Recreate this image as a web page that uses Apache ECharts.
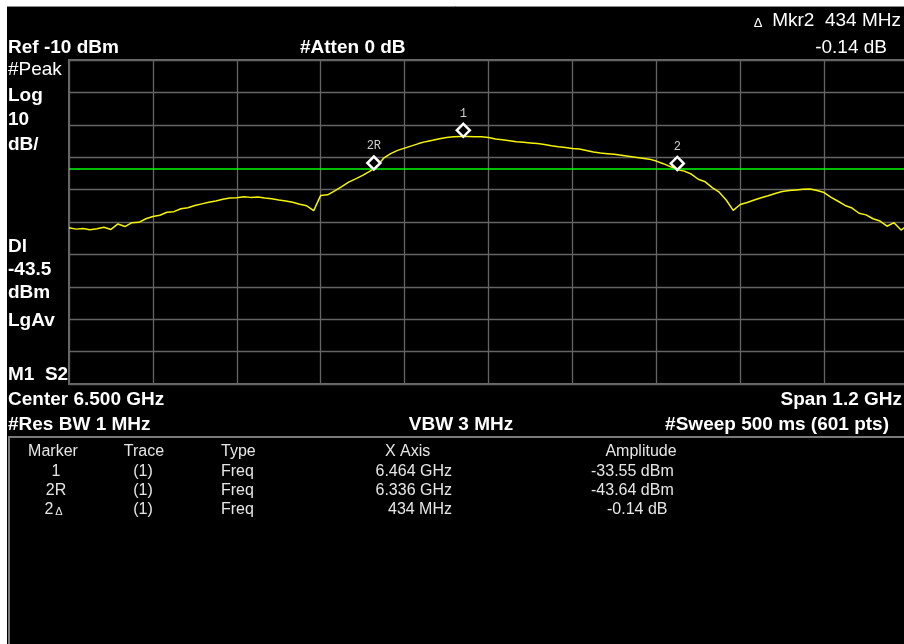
<!DOCTYPE html>
<html><head><meta charset="utf-8">
<script src="https://cdn.jsdelivr.net/npm/echarts@6/dist/echarts.min.js"></script>
<style>html,body{margin:0;padding:0;background:#000}#c{width:904px;height:644px}</style>
</head><body><div id="c"></div>
<script>
// ---- instrument settings ----
const centerMHz = 6500;
const spanMHz = 1200;
const refLevelDbm = -10;
const dbPerDiv = 10;
const displayLineDbm = -43.5;

// ---- trace ----
const freqMHz = [
  5900,5910,5920,5930,5940,5950,5960,5970,5980,5990,
  6000,6010,6020,6030,6040,6050,6060,6070,6080,6090,
  6100,6110,6120,6130,6140,6150,6160,6170,6180,6190,
  6200,6210,6220,6230,6240,6250,6260,6270,6280,6290,
  6300,6310,6320,6330,6340,6350,6360,6370,6380,6390,
  6400,6410,6420,6430,6440,6450,6460,6470,6480,6490,
  6500,6510,6520,6530,6540,6550,6560,6570,6580,6590,
  6600,6610,6620,6630,6640,6650,6660,6670,6680,6690,
  6700,6710,6720,6730,6740,6750,6760,6770,6780,6790,
  6800,6810,6820,6830,6840,6850,6860,6870,6880,6890,
  6900,6910,6920,6930,6940,6950,6960,6970,6980,6990,
  7000,7010,7020,7030,7040,7050,7060,7070,7080,7090,
  7100
];
const ampDbm = [
  -61.8,-62.2,-62.0,-62.4,-62.1,-61.6,-62.3,-60.6,-61.4,-60.2,
  -60.1,-59.0,-58.3,-57.9,-57.0,-56.8,-55.9,-55.6,-54.9,-54.4,
  -53.9,-53.5,-53.0,-52.6,-52.5,-52.2,-52.4,-52.3,-52.6,-52.8,
  -53.2,-53.5,-53.9,-54.5,-55.0,-56.5,-51.8,-51.6,-50.4,-49.1,
  -47.7,-46.7,-45.6,-44.4,-42.9,-40.3,-38.9,-37.9,-37.2,-36.5,
  -35.8,-35.2,-34.8,-34.3,-33.9,-33.7,-33.58,-33.6,-33.7,-33.7,
  -33.9,-34.4,-34.6,-34.9,-35.2,-35.4,-35.6,-35.8,-36.1,-36.5,
  -36.8,-37.0,-37.3,-37.5,-37.9,-38.4,-38.7,-38.9,-39.1,-39.4,
  -39.7,-40.0,-40.3,-40.6,-41.2,-42.0,-42.9,-43.8,-44.3,-45.2,
  -46.8,-47.6,-49.4,-50.8,-53.2,-56.4,-54.6,-54.0,-53.2,-52.5,
  -51.9,-51.2,-50.6,-50.3,-50.1,-49.9,-49.8,-50.3,-50.9,-52.4,
  -53.6,-54.9,-55.7,-57.3,-57.8,-59.0,-59.7,-61.3,-60.2,-62.5,
  -60.9
];

// ---- markers ----
const markerNames = ['1', '2R', '2'];
const markerFreqMHz = [6464, 6336, 6770];
const markerAmpDbm = [-33.55, -43.64, -43.78];

// ---- marker table ----
const tableHeader = ['Marker', 'Trace', 'Type', 'X Axis', 'Amplitude'];
const tableMarker = ['1', '2R', '2'];
const tableTrace = ['(1)', '(1)', '(1)'];
const tableType = ['Freq', 'Freq', 'Freq'];
const tableXAxis = ['6.464 GHz', '6.336 GHz', '434 MHz'];
const tableAmplitude = ['-33.55 dBm', '-43.64 dBm', '-0.14 dB'];

const FONT = '"Liberation Sans", Arial, sans-serif';
function T(text, x, y, size, bold, align, fill) {
  align = align || 'left';
  return {
    type: 'text', x: x, y: y, z: 100, silent: true,
    style: {
      text: text, fill: fill || '#ffffff',
      font: (bold ? 'bold ' : '') + size + 'px ' + FONT,
      textAlign: align, align: align,
      textVerticalAlign: 'middle', verticalAlign: 'middle'
    }
  };
}

const g = [];
// white frame top/left
g.push({type:'rect', z: 90, silent:true, shape:{x:0,y:0,width:904,height:6}, style:{fill:'#fff'}});
g.push({type:'rect', z: 90, silent:true, shape:{x:0,y:0,width:7,height:644}, style:{fill:'#fff'}});
g.push({type:'line', z: 91, silent:true, shape:{x1:7,y1:6.5,x2:904,y2:6.5}, style:{stroke:'#8a8a8a', lineWidth:1}});
// header
g.push(T('Ref -10 dBm', 8, 48, 19, true));
g.push(T('#Atten 0 dB', 300, 48, 19, true));
g.push(T('\u0394', 758, 23, 13, false, 'center'));
g.push(T('Mkr2  434 MHz', 901, 21, 19, false, 'right'));
g.push(T('-0.14 dB', 887, 48, 19, false, 'right'));
// left annotations
g.push(T('#Peak', 8, 70, 19, false));
g.push(T('Log', 8, 96, 19, true));
g.push(T('10', 8, 120, 19, true));
g.push(T('dB/', 8, 145, 19, true));
g.push(T('Dl', 8, 247, 19, true));
g.push(T('-43.5', 8, 270, 19, true));
g.push(T('dBm', 8, 293, 19, true));
g.push(T('LgAv', 8, 321, 19, true));
g.push(T('M1  S2', 8, 375, 19, true));
// bottom annotations
g.push(T('Center 6.500 GHz', 8, 400, 19, true));
g.push(T('Span 1.2 GHz', 902, 400, 19, true, 'right'));
g.push(T('#Res BW 1 MHz', 8, 425, 19, true));
g.push(T('VBW 3 MHz', 461, 425, 19, true, 'center'));
g.push(T('#Sweep 500 ms (601 pts)', 889, 425, 19, true, 'right'));
// marker table frame
g.push({type:'line', z: 91, silent:true, shape:{x1:8,y1:437,x2:904,y2:437}, style:{stroke:'#7a7a7a', lineWidth:2}});
g.push({type:'line', z: 91, silent:true, shape:{x1:9,y1:437,x2:9,y2:644}, style:{stroke:'#7a7a7a', lineWidth:2}});
// table
const TC = '#e6e6e6';
const rowY = [472, 491, 510];
g.push(T(tableHeader[0], 53, 452, 16, false, 'center', TC));
g.push(T(tableHeader[1], 144, 452, 16, false, 'center', TC));
g.push(T(tableHeader[2], 221, 452, 16, false, 'left', TC));
g.push(T(tableHeader[3], 385, 452, 16, false, 'left', TC));
g.push(T(tableHeader[4], 641, 452, 16, false, 'center', TC));
for (let i = 0; i < 3; i++) {
  if (i < 2) g.push(T(tableMarker[i], 56, rowY[i], 16, false, 'center', TC));
  else {
    g.push(T(tableMarker[i], 49, rowY[i], 16, false, 'center', TC));
    g.push(T('\u0394', 59, rowY[i] + 2, 11, false, 'center', TC));
  }
  g.push(T(tableTrace[i], 143, rowY[i], 16, false, 'center', TC));
  g.push(T(tableType[i], 221, rowY[i], 16, false, 'left', TC));
  g.push(T(tableXAxis[i], 452, rowY[i], 16, false, 'right', TC));
  g.push(T(tableAmplitude[i], i < 2 ? 591 : 607, rowY[i], 16, false, 'left', TC));
}

const traceData = freqMHz.map((f, i) => [f - centerMHz, ampDbm[i]]);
const markerData = markerNames.map((n, i) => ({ name: n, value: [markerFreqMHz[i] - centerMHz, markerAmpDbm[i]] }));

const chart = echarts.init(document.getElementById('c'), null, { renderer: 'canvas' });
chart.setOption({
  backgroundColor: '#000',
  animation: false,
  grid: { left: 69, top: 60, width: 839, height: 324, outerBoundsMode: 'none', containLabel: false,
          show: true, borderColor: '#6a6a6a', borderWidth: 2, backgroundColor: 'transparent' },
  xAxis: {
    type: 'value', min: -spanMHz / 2, max: spanMHz / 2, interval: spanMHz / 10,
    axisLine: { show: false }, axisTick: { show: false }, axisLabel: { show: false },
    splitLine: { show: true, lineStyle: { color: '#646464', width: 1.3 } }
  },
  yAxis: {
    type: 'value', min: refLevelDbm - 10 * dbPerDiv, max: refLevelDbm, interval: dbPerDiv,
    axisLine: { show: false }, axisTick: { show: false }, axisLabel: { show: false },
    splitLine: { show: true, lineStyle: { color: '#646464', width: 1.3 } }
  },
  graphic: { elements: g },
  series: [
    {
      type: 'line', data: traceData, showSymbol: false, symbol: 'none', z: 3,
      lineStyle: { color: '#f5f500', width: 1.5 },
      markLine: {
        silent: true, symbol: ['none', 'none'], label: { show: false },
        lineStyle: { color: '#00ff00', width: 1.5, type: 'solid' },
        data: [{ yAxis: displayLineDbm }]
      }
    },
    {
      type: 'scatter', data: markerData, z: 5,
      symbol: 'diamond', symbolSize: [13, 13], symbolOffset: [0, -6],
      itemStyle: { color: '#000', borderColor: '#ffffff', borderWidth: 2.5, opacity: 1 },
      emphasis: { disabled: true },
      label: {
        show: true, position: 'top', distance: 3, formatter: '{b}',
        color: '#cfcfcf', fontSize: 12, fontFamily: '"Liberation Mono", "DejaVu Sans Mono", monospace'
      }
    }
  ]
});
</script>
</body></html>
